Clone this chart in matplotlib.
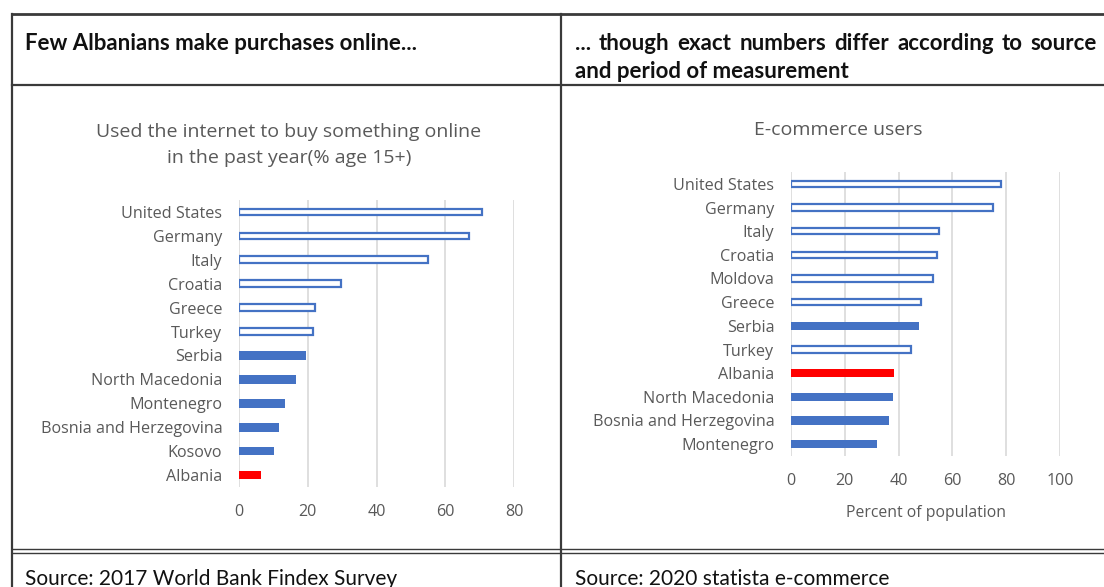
import matplotlib
matplotlib.use("Agg")
import matplotlib.pyplot as plt
from matplotlib.lines import Line2D

#%% Data

# left chart: Findex 2017
left_countries = ['United States', 'Germany', 'Italy', 'Croatia', 'Greece', 'Turkey',
                  'Serbia', 'North Macedonia', 'Montenegro', 'Bosnia and Herzegovina',
                  'Kosovo', 'Albania']
left_values = [70.6, 67.0, 55.0, 29.8, 22.2, 21.4, 19.5, 16.6, 13.3, 11.6, 10.3, 6.4]
left_groups = ['ref', 'ref', 'ref', 'ref', 'ref', 'ref',
               'wb', 'wb', 'wb', 'wb', 'wb', 'al']

# right chart: statista 2020
right_countries = ['United States', 'Germany', 'Italy', 'Croatia', 'Moldova', 'Greece',
                   'Serbia', 'Turkey', 'Albania', 'North Macedonia',
                   'Bosnia and Herzegovina', 'Montenegro']
right_values = [77.9, 75.0, 55.1, 54.2, 52.7, 48.5, 47.5, 44.6, 38.4, 38.0, 36.3, 32.1]
right_groups = ['ref', 'ref', 'ref', 'ref', 'ref', 'ref',
                'wb', 'ref', 'al', 'wb', 'wb', 'wb']

left_ticks = [0, 20, 40, 60, 80]
right_ticks = [0, 20, 40, 60, 80, 100]

#%% Figure and helpers
W, H = 1104, 587
fig = plt.figure(figsize=(W / 100, H / 100), dpi=100)

def fx(x):
    return x / W

def fy(y):
    return 1 - y / H

BLUE = '#4472C4'
RED = '#FF0000'
GREY = '#595959'
GRID = '#D9D9D9'
chart_font = 'Open Sans'
table_font = 'Lato'

def draw_chart(rect, countries, values, groups, ticks, xmax):
    l, t, r, b = rect
    ax = fig.add_axes([fx(l), fy(b), fx(r) - fx(l), fy(t) - fy(b)])
    n = len(countries)
    pos = list(range(n))[::-1]
    for p, v, g in zip(pos, values, groups):
        if g == 'ref':
            ax.barh(p, v, height=0.28, color='white', edgecolor=BLUE, linewidth=1.6, zorder=3)
        elif g == 'wb':
            ax.barh(p, v, height=0.36, color=BLUE, zorder=3)
        else:
            ax.barh(p, v, height=0.36, color=RED, zorder=3)
    ax.set_xlim(0, xmax)
    ax.set_ylim(-0.5, n - 0.5)
    ax.set_yticks(pos)
    ax.set_yticklabels(countries, fontsize=11.6, color=GREY, family=chart_font)
    ax.set_xticks(ticks)
    ax.set_xticklabels([str(t) for t in ticks], fontsize=11.6, color=GREY, family=chart_font)
    ax.tick_params(axis='y', length=0, pad=12)
    ax.tick_params(axis='x', length=0, pad=12)
    ax.grid(axis='x', color=GRID, linewidth=1.2, zorder=0)
    for s in ax.spines.values():
        s.set_visible(False)
    return ax

draw_chart((239, 200, 514, 487), left_countries, left_values, left_groups, left_ticks, 80)
ax2 = draw_chart((791, 172, 1060, 456), right_countries, right_values, right_groups, right_ticks, 100)
ax2.set_xlabel('Percent of population', fontsize=11.3, color=GREY, family=chart_font, labelpad=12)

#%% Chart titles
fig.text(fx(289), fy(145), 'Used the internet to buy something online\nin the past year(% age 15+)',
         ha='center', va='center', fontsize=14, color=GREY, family=chart_font, linespacing=1.55)
fig.text(fx(838), fy(130), 'E-commerce users', ha='center', va='center',
         fontsize=14, color=GREY, family=chart_font)

#%% Table frame
LINE = '#3a3a3a'
for (x0, y0, x1, y1, lw) in [(12, 14, 1104, 14, 2.0), (12, 14, 12, 587, 1.6),
                             (12, 85, 1104, 85, 1.6), (561, 14, 561, 587, 1.6),
                             (12, 549, 1104, 549, 1.0), (12, 553, 1104, 553, 1.0)]:
    fig.add_artist(Line2D([fx(x0), fx(x1)], [fy(y0), fy(y1)], color=LINE, linewidth=lw))

#%% Header and source texts
head = dict(fontsize=16, fontweight='bold', color='#111111', family=table_font, va='center')
fig.text(fx(25), fy(43), 'Few Albanians make purchases online...', ha='left', **head)

# first line on the right is justified between x=575 and x=1097
words = '... though exact numbers differ according to source'.split()
renderer = fig.canvas.get_renderer()
arts = [fig.text(0, fy(43), w, ha='left', **head) for w in words]
widths = [a.get_window_extent(renderer).width for a in arts]
gap = (1097 - 575 - sum(widths)) / (len(words) - 1)
x = 575
for a, w in zip(arts, widths):
    a.set_x(fx(x))
    x += w + gap
fig.text(fx(575), fy(71), 'and period of measurement', ha='left', **head)

src = dict(fontsize=15, color='#111111', family=table_font, va='center', ha='left')
fig.text(fx(25), fy(579), 'Source: 2017 World Bank Findex Survey', **src)
fig.text(fx(575), fy(579), 'Source: 2020 statista e-commerce', **src)

fig.savefig('out.png', dpi=100, facecolor='white')
